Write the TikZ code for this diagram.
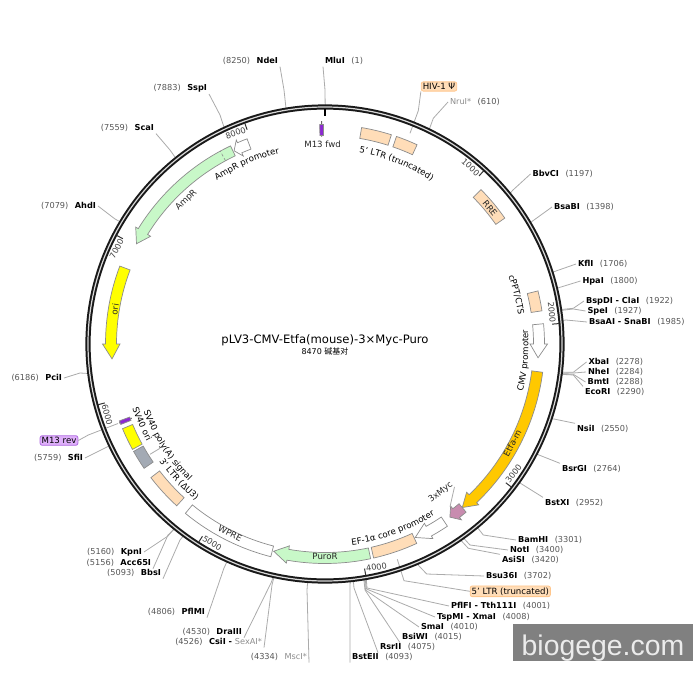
\documentclass[tikz,border=0pt]{standalone}
\usepackage{fontspec}
\setmainfont{DejaVu Sans}[Ligatures=ResetAll]
\newfontfamily\cjkfont{Noto Sans CJK SC}
\newfontfamily\markfont{Liberation Sans}
\usetikzlibrary{decorations.text}
\definecolor{ltrcol}{RGB}{255,221,184}
\definecolor{ampcol}{RGB}{200,248,200}
\definecolor{etfacol}{RGB}{255,200,0}
\definecolor{oricol}{RGB}{255,255,0}
\definecolor{polycol}{RGB}{163,170,180}
\definecolor{myccol}{RGB}{200,140,175}
\definecolor{m13col}{RGB}{140,40,210}
\definecolor{tagcol}{RGB}{222,175,250}
\definecolor{tagline}{RGB}{175,105,225}
\definecolor{numcol}{RGB}{85,85,85}
\definecolor{dimcol}{RGB}{140,140,140}
\newcommand{\sitefont}{\fontsize{8.2}{10}\selectfont}
\newcommand{\featfont}{\fontsize{8.6}{10}\selectfont}
\newcommand{\siteR}[2]{\textbf{#1}\hspace{6.5pt}\textcolor{numcol}{(#2)}}
\newcommand{\siteL}[2]{\textcolor{numcol}{(#1)}\hspace{6.5pt}\textbf{#2}}
\tikzset{
  leader/.style={draw=black!33,line width=0.8pt},
  featbox/.style={draw=black!45,line width=0.7pt},
  sitelabel/.style={font=\sitefont,inner sep=0pt,outer sep=2pt},
  featlabel/.style={font=\featfont,text=black!85,inner sep=0pt},
  taglabel/.style={font=\featfont,rounded corners=2pt,inner sep=1.5pt,line width=0.8pt},
}
\begin{document}
\begin{tikzpicture}[x=1pt,y=-1pt]
  \useasboundingbox (0,0) rectangle (700,700);
  \coordinate (c) at (325,344);
  % restriction sites: id, anchor, label position, text, leaving anchor, bend, base pair
  \foreach \id/\anc/\lx/\ly/\txt/\out/\bx/\by/\pos in {
    mlui/west/323/61/{\siteR{MluI}{1}}/south west/325/90/1,
    ndei/east/280/61/{\siteL{8250}{NdeI}}/south east/284/90/8250,
    sspi/east/209/88/{\siteL{7883}{SspI}}/south east/220/115/7883,
    scai/east/156/128/{\siteL{7559}{ScaI}}/south east/170/150/7559,
    ahdi/east/98/206/{\siteL{7079}{AhdI}}/east/115/219/7079,
    pcii/east/64/378/{\siteL{6186}{PciI}}/east/80/373/6186,
    sfii/east/85/458/{\siteL{5759}{SfiI}}/east/105/448/5759,
    kpni/east/144/552/{\siteL{5160}{KpnI}}/east/168/536/5160,
    acci/east/153/563/{\siteL{5156}{Acc65I}}/south east/168/535/5156,
    bbsi/east/163/573/{\siteL{5093}{BbsI}}/south east/180/540/5093,
    pfmi/east/207/612/{\siteL{4806}{PflMI}}/south east/224/568/4806,
    drai/east/244/632/{\siteL{4530}{DraIII}}/south east/271/583/4530,
    csii/east/264/642/{\siteL{4526}{CsiI - \textcolor{dimcol}{\mdseries SexAI*}}}/south east/272/585/4526,
    msci/east/309/657/{\textcolor{numcol}{(4334)}\hspace{6.5pt}\textcolor{dimcol}{MscI*}}/south east/307/590/4334,
    bste/west/350/657/{\siteR{BstEII}{4093}}/south west/350/590/4093,
    rsri/west/378/647/{\siteR{RsrII}{4075}}/south west/354/588/4075,
    bsiw/west/400/637/{\siteR{BsiWI}{4015}}/south west/365/590/4015,
    smai/west/419/627/{\siteR{SmaI}{4010}}/west/365.5/590/4010,
    tspm/west/435/617/{\siteR{TspMI - XmaI}{4008}}/west/366.5/589/4008,
    pflf/west/449/606/{\siteR{PflFI - Tth111I}{4001}}/west/367/588/4001,
    bsut/west/484/576/{\siteR{Bsu36I}{3702}}/west/426.7/574/3702,
    asis/west/500/560/{\siteR{AsiSI}{3420}}/north west/468.3/548.3/3420,
    noti/west/508/550/{\siteR{NotI}{3400}}/west/470/545/3400,
    bamh/west/516/540/{\siteR{BamHI}{3301}}/west/483.3/535/3301,
    bstx/west/543/503/{\siteR{BstXI}{2952}}/north west/520/483/2952,
    bsrg/west/560/469/{\siteR{BsrGI}{2764}}/north west/539/455/2764,
    nsii/west/575/429/{\siteR{NsiI}{2550}}/north west/554/419/2550,
    ecor/west/583/392/{\siteR{EcoRI}{2290}}/north west/573.3/375/2290,
    bmti/west/585.5/382/{\siteR{BmtI}{2288}}/west/573.3/374.3/2288,
    nhei/west/586/372/{\siteR{NheI}{2284}}/west/573.3/373/2284,
    xbai/west/586.5/362/{\siteR{XbaI}{2278}}/west/573.3/372.3/2278,
    snab/west/587/322/{\siteR{BsaAI - SnaBI}{1985}}/west/566/320/1985,
    spei/west/585.5/311/{\siteR{SpeI}{1927}}/west/573.3/309/1927,
    clai/west/584/301/{\siteR{BspDI - ClaI}{1922}}/west/573.3/308.3/1922,
    hpai/west/580.5/281/{\siteR{HpaI}{1800}}/west/561/287/1800,
    kfli/west/576/264/{\siteR{KflI}{1706}}/west/556/271/1706,
    bsab/west/552/207/{\siteR{BsaBI}{1398}}/west/534/220/1398,
    bbvc/west/530.5/174/{\siteR{BbvCI}{1197}}/west/513/190/1197,
    nrui/west/448/102/{\textcolor{dimcol}{NruI*}\hspace{6.5pt}\textcolor{numcol}{(610)}}/west/433.3/118.3/610}{
    \node[sitelabel,anchor=\anc] (\id) at (\lx,\ly) {\txt};
    \coordinate (\id end) at ([shift={(c)}]{\pos*0.042503-90}:238);
    \draw[leader] (\id.\out) -- (\bx,\by) -- (\id end);}
  % tagged features with their leaders
  \node[taglabel,draw=orange!45,fill=ltrcol] (hiv) at (439,86.5) {HIV-1 Ψ};
  \coordinate (hivend) at (410,133.3);
  \draw[leader] (hiv.south west) -- (418.3,110.7) -- (hivend);
  \node[taglabel,draw=tagline,fill=tagcol] (m13rev) at (59,440.5) {M13 rev};
  \coordinate (m13end) at (118,423.5);
  \draw[leader] (m13rev.east) -- (88.3,435) -- (m13end);
  \node[taglabel,draw=orange!45,fill=ltrcol] (ltrtag) at (510.3,591.3) {5' LTR (truncated)};
  \coordinate (ltrend) at (397.3,559.3);
  \draw[leader] (ltrtag.west) -- (404,580.7) -- (ltrend);
  \begin{scope}[shift={(325,344)}]
    % backbone, with the position ticks
    \draw[line width=5.2pt,black!90] (0,0) circle (237);
    \draw[line width=1.2pt,white!85!black] (0,0) circle (237);
    \draw[line width=1.6pt] (-90:228) -- (-90:235);
    \foreach \k/\flip in {1/0,2/0,3/180,4/180,5/180,6/180,7/0,8/0}{
      \pgfmathsetmacro{\ang}{\k*42.503}
      \draw[line width=1pt,black!80] (\ang-90:228) -- (\ang-90:235);
      \node[font=\sitefont,text=black!75,inner sep=0pt,rotate=\flip-\ang] (tick\k)
        at (\ang-93:229) {\the\numexpr\k*1000\relax};}
    % square features
    \draw[black!60,line width=1pt] (-90.9:207.5) -- (-90.9:223);
    \draw[black!60,line width=1pt] (159:207) -- (159:220.5);
    \foreach \a/\b/\col in {9.6/17.6/ltrcol,19/24.8/ltrcol,45.3/55/ltrcol,76/81.3/ltrcol,
      155.3/167.2/ltrcol,194.3/219.5/white,222.5/232.5/ltrcol,235.5/240.7/polycol,
      241.3/247.3/oricol,-1.4/-0.4/m13col,248.5/249.5/m13col}{
      \draw[featbox,fill=\col] (\a-90:208.5) arc[start angle=\a-90,end angle=\b-90,radius=208.5]
        -- (\b-90:219.5) arc[start angle=\b-90,end angle=\a-90,radius=219.5] -- cycle;}
    % arrows: tail, shoulder, tip
    \foreach \a/\b/\e/\col in {84.7/90/93.7/white,97.4/136.3/140/etfacol,146.1/151/155/white,
      168/190/193.9/ampcol,334.5/301.7/298/ampcol,290.8/270/266/oricol,339.2/336.5/334.8/white,
      140/142.2/144.2/myccol}{
      \draw[featbox,fill=\col] (\a-90:208.5) arc[start angle=\a-90,end angle=\b-90,radius=208.5]
        -- (\b-90:205) -- (\e-90:213.5) -- (\b-90:222.5) -- (\b-90:219.5)
        arc[start angle=\b-90,end angle=\a-90,radius=219.5] -- cycle;}
    \draw[black!45,densely dashed,line width=0.6pt] (241.5:208.5) -- (241.5:219.5);
    % short labels
    \foreach \id/\ang/\rad/\rot/\txt in {rre/50.6/213.6/-50.6/RRE,ampr/316/199.7/44/AmpR,
      ori/279.4/213/80.6/ori,etfa/117.9/212/62/Etfa-m,puro/180/212/0/PuroR,
      wpre/206.6/212/-26.6/WPRE,myc/142/188/38/3xMyc,fwd/-0.7/199.5/0/M13 fwd}{
      \node[featlabel,rotate=\rot] (\id) at (\ang-90:\rad) {\txt};}
    % labels that follow the circle
    \foreach \a/\b/\rad/\txt in {7/36.3/194.5/5' LTR (truncated),323.4/349.7/196/AmpR promoter,
      66.7/84.6/195.5/{cPPT/CTS},106.8/82.5/203.5/CMV promoter,
      176.6/143/203/EF-1α core promoter,253.8/220.7/193.5/SV40 poly(A) signal,
      254.9/238/203/SV40 ori,238.3/216/203/3' LTR (ΔU3)}{
      \featfont
      \path[decorate,decoration={text along path,text align=center,text/.expanded={\txt}}]
        (\a-90:\rad) arc[start angle=\a-90,end angle=\b-90,radius=\rad];}
  \end{scope}
  % short leaders of the features
  \draw[leader] (myc.south east) -- (450,506.7);
  \draw[leader] (150,454.3) -- (160,448.3);
  % title
  \node[font=\fontsize{11.6}{14}\selectfont,inner sep=0pt] (title) at (325,340.5)
    {pLV3-CMV-Etfa(mouse)-3×Myc-Puro};
  \node[font=\fontsize{8}{10}\selectfont,inner sep=0pt] (size) at (325,351.5)
    {8470 {\cjkfont 碱基对}};
  % watermark
  \fill[black!50] (513,624) rectangle (693,661);
  \node[font=\markfont\fontsize{28.4}{30}\selectfont,text=white!92!black,inner sep=0pt,anchor=base]
    (mark) at (603,655) {biogege.com};
\end{tikzpicture}
\end{document}
